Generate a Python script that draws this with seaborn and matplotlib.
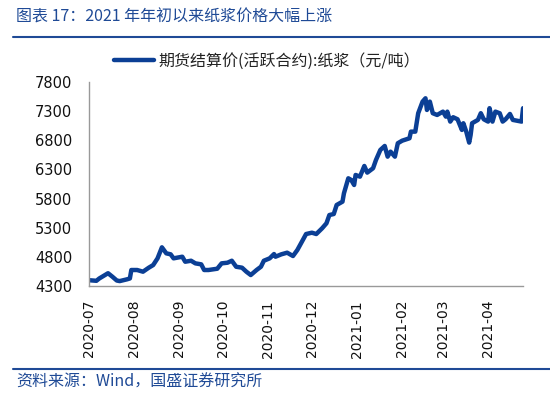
import pandas as pd
import seaborn as sns
import matplotlib.pyplot as plt
import matplotlib.dates as mdates

# 期货结算价(活跃合约):纸浆
dates = [
    '2020-07-01', '2020-07-06', '2020-07-08', '2020-07-14', '2020-07-17', '2020-07-20',
    '2020-07-22', '2020-07-27', '2020-07-29', '2020-07-30', '2020-08-03', '2020-08-07',
    '2020-08-11', '2020-08-14', '2020-08-17', '2020-08-20', '2020-08-23', '2020-08-26',
    '2020-08-28', '2020-09-03', '2020-09-05', '2020-09-09', '2020-09-12', '2020-09-16',
    '2020-09-18', '2020-09-21', '2020-09-27', '2020-09-30', '2020-10-04', '2020-10-07',
    '2020-10-10', '2020-10-14', '2020-10-17', '2020-10-20', '2020-10-24', '2020-10-27',
    '2020-10-29', '2020-11-02', '2020-11-05', '2020-11-06', '2020-11-10', '2020-11-14',
    '2020-11-18', '2020-11-21', '2020-11-25', '2020-11-27', '2020-12-01', '2020-12-04',
    '2020-12-08', '2020-12-11', '2020-12-13', '2020-12-16', '2020-12-18', '2020-12-22',
    '2020-12-23', '2020-12-26', '2020-12-28', '2020-12-30', '2020-12-31', '2021-01-03',
    '2021-01-06', '2021-01-08', '2021-01-12', '2021-01-14', '2021-01-17', '2021-01-20',
    '2021-01-22', '2021-01-24', '2021-01-27', '2021-01-29', '2021-02-01', '2021-02-06',
    '2021-02-07', '2021-02-10', '2021-02-12', '2021-02-15', '2021-02-17', '2021-02-18',
    '2021-02-20', '2021-02-22', '2021-02-25', '2021-03-01', '2021-03-03', '2021-03-04',
    '2021-03-06', '2021-03-08', '2021-03-11', '2021-03-14', '2021-03-15', '2021-03-17',
    '2021-03-19', '2021-03-20', '2021-03-21', '2021-03-25', '2021-03-27', '2021-03-29',
    '2021-04-01', '2021-04-02', '2021-04-04', '2021-04-06', '2021-04-09', '2021-04-11',
    '2021-04-13', '2021-04-16', '2021-04-18', '2021-04-24', '2021-04-25',
]
prices = [
    4400, 4390, 4430, 4520, 4460, 4395,
    4385, 4415, 4430, 4575, 4575, 4546,
    4615, 4660, 4775, 4964, 4861, 4844,
    4775, 4803, 4717, 4734, 4689, 4672,
    4575, 4575, 4597, 4689, 4700, 4734,
    4631, 4615, 4546, 4489, 4575, 4631,
    4734, 4775, 4849, 4803, 4844, 4872,
    4815, 4918, 5100, 5192, 5215, 5192,
    5290, 5376, 5518, 5535, 5690, 5747,
    5890, 6148, 6119, 6033, 6205, 6176,
    6359, 6245, 6320, 6462, 6634, 6702,
    6519, 6605, 6519, 6749, 6793, 6834,
    6948, 6948, 7264, 7463, 7520, 7320,
    7463, 7264, 7234, 7291, 7205, 7291,
    7120, 7195, 7160, 6977, 7092, 6948,
    6760, 6891, 7092, 7149, 7264, 7160,
    7120, 7350, 7120, 7291, 7263, 7120,
    7160, 7251, 7149, 7120, 7350,
]
month_ticks = ['2020-07', '2020-08', '2020-09', '2020-10', '2020-11', '2020-12',
               '2021-01', '2021-02', '2021-03', '2021-04']
y_ticks = [4300, 4800, 5300, 5800, 6300, 6800, 7300, 7800]

series_name = '期货结算价(活跃合约):纸浆（元/吨）'
blue = '#0b3f95'
title_blue = '#1f4a96'

sns.set_style('white')
plt.rcParams['font.family'] = ['Noto Sans CJK SC', 'DejaVu Sans']

df = pd.DataFrame({'date': pd.to_datetime(dates), 'price': prices})

fig = plt.figure(figsize=(5.5, 3.94), dpi=100)
ax = fig.add_axes([0.162, 0.274, 0.789, 0.518])

sns.lineplot(data=df, x='date', y='price', ax=ax, color=blue, linewidth=3.2,
             label=series_name)

ax.set_xlim(pd.Timestamp('2020-07-01'), pd.Timestamp('2021-04-25'))
ax.set_ylim(4300, 7800)
ax.set_yticks(y_ticks)
ax.set_xticks(pd.to_datetime(month_ticks))
ax.xaxis.set_major_formatter(mdates.DateFormatter('%Y-%m'))
ax.set_xlabel('')
ax.set_ylabel('')

for side in ['top', 'right']:
    ax.spines[side].set_visible(False)
for side in ['left', 'bottom']:
    ax.spines[side].set_color('#999999')
    ax.spines[side].set_linewidth(1.0)

ax.tick_params(axis='x', direction='in', length=4, color='#999999', rotation=90,
               labelsize=10, pad=10, labelcolor='#111111')
ax.tick_params(axis='y', direction='in', length=4, color='#999999',
               labelsize=10.5, pad=12, labelcolor='#111111')
for lbl in ax.get_xticklabels() + ax.get_yticklabels():
    lbl.set_fontfamily('DejaVu Sans')

leg = ax.legend(loc='center', bbox_to_anchor=(0.41, 1.103), frameon=False,
                fontsize=11.5, handlelength=2.5, handletextpad=0.3)
for t in leg.get_texts():
    t.set_color('#222222')

# header / footer
fig.text(0.03, 0.957, '图表 17：2021 年年初以来纸浆价格大幅上涨', fontsize=11.5,
         color=title_blue, style='italic', va='center', ha='left')
fig.add_artist(plt.Line2D([0.024, 1.0], [0.906, 0.906], color=title_blue, linewidth=1.5))
fig.add_artist(plt.Line2D([0.024, 1.0], [0.063, 0.063], color=title_blue, linewidth=1.5))
fig.text(0.03, 0.03, '资料来源：Wind，国盛证券研究所', fontsize=11.5,
         color=title_blue, style='italic', va='center', ha='left')

fig.savefig('out.png', dpi=100)
